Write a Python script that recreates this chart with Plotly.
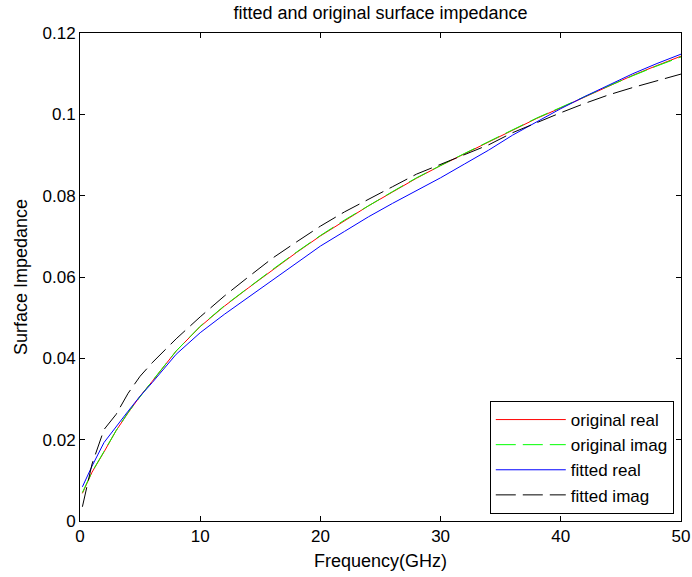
import plotly.graph_objects as go

# Frequency (GHz) sample points
freq = [0.2, 1, 2, 3, 4, 5, 6, 8, 10, 12, 14, 16, 18, 20, 22, 24, 26, 28, 30,
        32, 34, 36, 38, 40, 42, 44, 46, 48, 50]

original_real = [0.0068, 0.0120, 0.0170, 0.0222, 0.0266, 0.0307, 0.0343, 0.0418,
                 0.0478, 0.0528, 0.0573, 0.0617, 0.0660, 0.0701, 0.0739, 0.0775,
                 0.0809, 0.0843, 0.0874, 0.0903, 0.0932, 0.0961, 0.0990, 0.1016,
                 0.1043, 0.1070, 0.1096, 0.1120, 0.1143]

original_imag = [0.0070, 0.0121, 0.0171, 0.0222, 0.0267, 0.0307, 0.0344, 0.0418,
                 0.0479, 0.0529, 0.0574, 0.0618, 0.0661, 0.0702, 0.0740, 0.0776,
                 0.0810, 0.0844, 0.0875, 0.0904, 0.0933, 0.0962, 0.0991, 0.1017,
                 0.1044, 0.1070, 0.1095, 0.1119, 0.1141]

fitted_real = [0.0084, 0.0135, 0.0193, 0.0233, 0.0270, 0.0307, 0.0340, 0.0410,
               0.0463, 0.0508, 0.0550, 0.0594, 0.0636, 0.0676, 0.0712, 0.0748,
               0.0781, 0.0812, 0.0844, 0.0878, 0.0912, 0.0949, 0.0982, 0.1014,
               0.1044, 0.1073, 0.1100, 0.1125, 0.1148]

fitted_imag = [0.0035, 0.0140, 0.0225, 0.0262, 0.0314, 0.0356, 0.0389, 0.0448,
               0.0502, 0.0553, 0.0600, 0.0646, 0.0686, 0.0725, 0.0760, 0.0792,
               0.0822, 0.0853, 0.0877, 0.0900, 0.0925, 0.0955, 0.0980, 0.1004,
               0.1027, 0.1048, 0.1066, 0.1083, 0.1099]

x_ticks = [0, 10, 20, 30, 40, 50]
y_ticks = [0, 0.02, 0.04, 0.06, 0.08, 0.1, 0.12]
y_tick_labels = ["0", "0.02", "0.04", "0.06", "0.08", "0.1", "0.12"]

FONT = "Liberation Sans, Arial, sans-serif"
DASH = "20px,7px"
TICK_SIZE = 17
LABEL_SIZE = 18

fig = go.Figure()
series = [
    ("original real", original_real, "rgb(255,0,0)", "solid"),
    ("original imag", original_imag, "rgb(0,255,0)", DASH),
    ("fitted real", fitted_real, "rgb(0,0,255)", "solid"),
    ("fitted imag", fitted_imag, "rgb(0,0,0)", DASH),
]
for i, (name, vals, col, dash) in enumerate(series):
    fig.add_trace(go.Scatter(
        x=freq, y=vals, mode="lines", name=name,
        line=dict(color=col, width=1, dash=dash),
        legendgroup=f"g{i}",
    ))

axis_common = dict(
    showline=True, linecolor="black", linewidth=1, mirror="allticks",
    ticks="inside", ticklen=5, tickcolor="black", showgrid=False,
    zeroline=False, automargin=False,
    tickfont=dict(family=FONT, size=TICK_SIZE, color="black"),
)

fig.update_layout(
    width=692, height=577,
    margin=dict(l=80, r=11, t=33, b=56),
    paper_bgcolor="white", plot_bgcolor="white",
    font=dict(family=FONT, size=TICK_SIZE, color="black"),
    title=dict(text="fitted and original surface impedance", x=0.5, xref="paper",
               xanchor="center", y=1 - 13 / 577, yref="container", yanchor="middle",
               font=dict(family=FONT, size=LABEL_SIZE, color="black")),
    xaxis=dict(range=[0, 50], tickvals=x_ticks, ticktext=[str(v) for v in x_ticks],
               title=dict(text="Frequency(GHz)", standoff=8,
                          font=dict(family=FONT, size=LABEL_SIZE, color="black")),
               **axis_common),
    yaxis=dict(range=[0, 0.12], tickvals=y_ticks, ticktext=y_tick_labels,
               title=dict(text="Surface Impedance", standoff=10,
                          font=dict(family=FONT, size=LABEL_SIZE, color="black")),
               **axis_common),
    legend=dict(x=0.988, y=0.0143, xanchor="right", yanchor="bottom",
                bgcolor="white", bordercolor="black", borderwidth=1,
                font=dict(family=FONT, size=TICK_SIZE, color="black"),
                itemwidth=70, traceorder="grouped", tracegroupgap=0),
    showlegend=True,
)

fig.write_html("out.html")
